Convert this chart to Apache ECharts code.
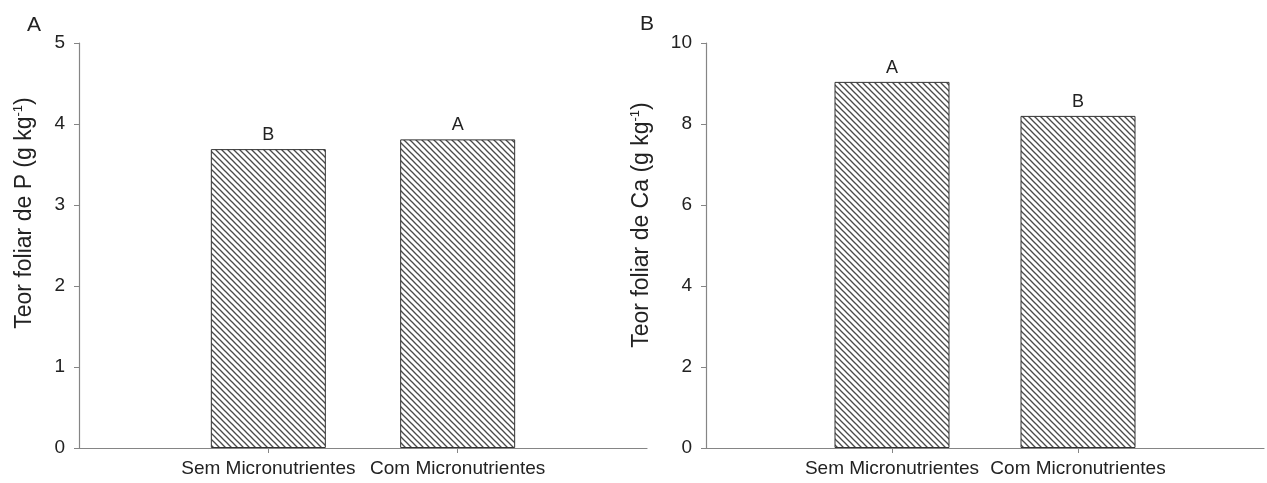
<!DOCTYPE html>
<html>
<head>
<meta charset="utf-8">
<script src="https://cdn.jsdelivr.net/npm/echarts@6/dist/echarts.min.js"></script>
<style>
html,body{margin:0;padding:0;background:#fff;}
#c{width:1267px;height:483px;}
</style>
</head>
<body>
<div id="c"></div>
<script>
// ---- data ----
var categories = ['Sem Micronutrientes', 'Com Micronutrientes'];
var valuesP = [3.69, 3.81];
var lettersP = ['B', 'A'];
var valuesCa = [9.04, 8.2];
var lettersCa = ['A', 'B'];
var yTicksP = [0, 1, 2, 3, 4, 5];
var yTicksCa = [0, 2, 4, 6, 8, 10];

// hatch pattern
function makeHatch() {
  var s = 6;
  var c = document.createElement('canvas');
  c.width = s; c.height = s;
  var g = c.getContext('2d');
  g.fillStyle = '#ffffff';
  g.fillRect(0, 0, s, s);
  g.strokeStyle = '#4a4a4a';
  g.lineWidth = 1.3;
  [-s, 0, s].forEach(function (o) {
    g.beginPath();
    g.moveTo(o - 1, -1);
    g.lineTo(o + s + 1, s + 1);
    g.stroke();
  });
  return c;
}
var hatch = makeHatch();

var axisData = [''].concat(categories).concat(['']);
function padVals(v) { return [null].concat(v).concat([null]); }

var axisColor = '#858585';
var textColor = '#222';
var font = 'Liberation Sans, Arial, sans-serif';

function xAxisCfg(gi) {
  return {
    type: 'category', gridIndex: gi, data: axisData, boundaryGap: false,
    axisLine: { lineStyle: { color: axisColor, width: 1.2 } },
    axisTick: { show: true, length: 5, inside: false,
      interval: function (i) { return i === 1 || i === 2; },
      lineStyle: { color: axisColor } },
    axisLabel: { interval: 0, fontSize: 19, color: textColor, fontFamily: font, margin: 11 },
    splitLine: { show: false }
  };
}
function yAxisCfg(gi, max, interval, name, gap, shift) {
  return {
    type: 'value', gridIndex: gi, min: 0, max: max, interval: interval,
    axisLine: { show: true, lineStyle: { color: axisColor, width: 1.2 } },
    axisTick: { show: true, length: 5, inside: false, lineStyle: { color: axisColor } },
    axisLabel: { fontSize: 19, color: textColor, fontFamily: font, margin: 14 },
    splitLine: { show: false },
    name: name, nameLocation: 'middle', nameGap: gap, nameRotate: 90,
    nameTextStyle: { fontSize: 23, color: textColor, fontFamily: font, padding: [0, 0, 0, shift],
      rich: { sup: { fontSize: 13, color: textColor, fontFamily: font, padding: [0, 0, 12, 0] } } }
  };
}
function barSeries(gi, vals, letters) {
  return {
    type: 'bar', xAxisIndex: gi, yAxisIndex: gi, data: padVals(vals), barWidth: 115,
    itemStyle: { color: { image: hatch, repeat: 'repeat' }, borderColor: '#333', borderWidth: 1 },
    label: { show: true, position: 'top', distance: 5, fontSize: 18, color: textColor, fontFamily: font,
      formatter: function (p) { return letters[p.dataIndex - 1]; } },
    silent: true, animation: false
  };
}

var chart = echarts.init(document.getElementById('c'), null, { renderer: 'canvas' });
chart.setOption({
  animation: false,
  backgroundColor: '#fff',
  grid: [
    { left: 79, top: 43, width: 568, height: 405 },
    { left: 706, top: 43, width: 568, height: 405 }
  ],
  xAxis: [xAxisCfg(0), xAxisCfg(1)],
  yAxis: [
    yAxisCfg(0, yTicksP[yTicksP.length - 1], yTicksP[1] - yTicksP[0], 'Teor foliar de P (g kg{sup|-1})', 42, 65),
    yAxisCfg(1, yTicksCa[yTicksCa.length - 1], yTicksCa[1] - yTicksCa[0], 'Teor foliar de Ca (g kg{sup|-1})', 52, 41)
  ],
  series: [barSeries(0, valuesP, lettersP), barSeries(1, valuesCa, lettersCa)],
  graphic: [
    { type: 'text', left: 27, top: 15, style: { text: 'A', fontSize: 21, fill: textColor, fontFamily: font } },
    { type: 'text', left: 640, top: 14, style: { text: 'B', fontSize: 21, fill: textColor, fontFamily: font } }
  ]
});
</script>
</body>
</html>
